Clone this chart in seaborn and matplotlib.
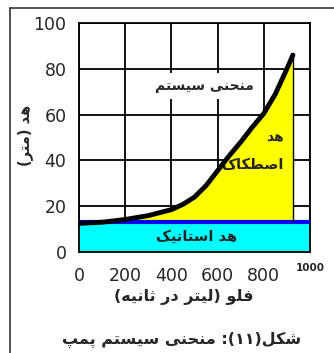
import numpy as np
import matplotlib
matplotlib.use("Agg")
import matplotlib.pyplot as plt
import seaborn as sns
from matplotlib.lines import Line2D

# data
flow = [0, 100, 200, 300, 400, 450, 500, 550, 600, 650, 700, 750, 800, 850, 900, 926]
head = [12.5, 13.0, 14.2, 15.9, 18.5, 20.8, 24.0, 29.0, 35.5, 42.0, 48.0, 54.5, 60.5, 69.0, 80.0, 86.0]
static_head = 13.0
x_ticks = [0, 200, 400, 600, 800, 1000]
y_ticks = [0, 20, 40, 60, 80, 100]

# matplotlib has no arabic shaping / bidi, so pick the presentation forms by hand
FORMS = {
    'ا': (0xFE8D, 0xFE8E), 'د': (0xFEA9, 0xFEAA), 'ر': (0xFEAD, 0xFEAE),
    'و': (0xFEED, 0xFEEE),
    'ب': (0xFE8F, 0xFE90, 0xFE91, 0xFE92), 'پ': (0xFB56, 0xFB57, 0xFB58, 0xFB59),
    'ت': (0xFE95, 0xFE96, 0xFE97, 0xFE98), 'ث': (0xFE99, 0xFE9A, 0xFE9B, 0xFE9C),
    'ح': (0xFEA1, 0xFEA2, 0xFEA3, 0xFEA4), 'س': (0xFEB1, 0xFEB2, 0xFEB3, 0xFEB4),
    'ش': (0xFEB5, 0xFEB6, 0xFEB7, 0xFEB8), 'ص': (0xFEB9, 0xFEBA, 0xFEBB, 0xFEBC),
    'ط': (0xFEC1, 0xFEC2, 0xFEC3, 0xFEC4), 'ف': (0xFED1, 0xFED2, 0xFED3, 0xFED4),
    'ک': (0xFB8E, 0xFB8F, 0xFB90, 0xFB91), 'ل': (0xFEDD, 0xFEDE, 0xFEDF, 0xFEE0),
    'م': (0xFEE1, 0xFEE2, 0xFEE3, 0xFEE4), 'ن': (0xFEE5, 0xFEE6, 0xFEE7, 0xFEE8),
    'ه': (0xFEE9, 0xFEEA, 0xFEEB, 0xFEEC), 'ی': (0xFBFC, 0xFBFD, 0xFBFE, 0xFBFF),
}
MIRROR = {'(': ')', ')': '('}


def fa(s):
    out = []
    for k, ch in enumerate(s):
        if ch not in FORMS:
            out.append(MIRROR.get(ch, ch))
            continue
        f = FORMS[ch]
        p = k > 0 and s[k - 1] in FORMS and len(FORMS[s[k - 1]]) == 4
        n = k < len(s) - 1 and s[k + 1] in FORMS and len(f) == 4
        out.append(chr(f[3] if p and n else f[1] if p else f[2] if n else f[0]))
    return ''.join(reversed(out))


sns.set_style("white")
plt.rcParams['font.family'] = ['DejaVu Sans']

fig = plt.figure(figsize=(3.34, 3.53), dpi=100)
ax = fig.add_axes([79 / 334, 1 - 252 / 353, 231 / 334, 229 / 353])

# static head band
ax.axhspan(0, static_head - 0.6, color='#00FFFF', zorder=2, lw=0)
ax.axhline(static_head, color='#0000FF', lw=3, zorder=3)

# friction head (yellow) between static line and curve
fx = np.array(flow, dtype=float)
fy = np.array(head)
ax.fill_between(fx, static_head + 0.5, np.maximum(fy, static_head + 0.5),
                color='#FFFF00', zorder=2, lw=0)
ax.plot([flow[-1], flow[-1]], [static_head + 0.5, head[-1]], color='black', lw=1, zorder=3)

sns.lineplot(x=flow, y=head, ax=ax, color='black', lw=3.5, zorder=5,
             solid_capstyle='round', solid_joinstyle='round')

ax.text(543, 72.5, fa('منحنی سیستم'), ha='center', va='center', fontsize=10,
        fontweight='bold', zorder=4,
        bbox=dict(facecolor='white', edgecolor='none', pad=4))
ax.text(885, 50, fa('هد'), ha='right', va='center', fontsize=10, fontweight='bold', zorder=4)
ax.text(885, 38, fa('اصطکاک'), ha='right', va='center', fontsize=10.5, fontweight='bold', zorder=4)
ax.text(511, 7.0, fa('هد استاتیک'), ha='center', va='center', fontsize=10.5,
        fontweight='bold', zorder=4)

ax.set_xlim(0, 1000)
ax.set_ylim(0, 100)
ax.set_xticks(x_ticks)
ax.set_yticks(y_ticks)
ax.set_xticklabels([str(v) for v in x_ticks[:-1]] + [''], fontsize=12.5)
ax.set_yticklabels([str(v) for v in y_ticks], fontsize=12.5)
ax.text(1000, -5.0, str(x_ticks[-1]), ha='center', va='top', fontsize=7.5,
        fontweight='bold', clip_on=False)
ax.tick_params(axis='both', direction='out', length=6, width=1.2, color='black', pad=3)
ax.tick_params(axis='x', pad=5)
ax.grid(True, color='black', lw=1.3)
ax.set_axisbelow(True)
for s in ax.spines.values():
    s.set_color('black')
    s.set_linewidth(1.3)

fig.text(25 / 334, 1 - 135 / 353, fa('هد (متر)'), rotation=90, ha='center', va='center',
         fontsize=10.5, fontweight='bold')
fig.text(184 / 334, 1 - 297 / 353, fa('فلو (لیتر در ثانیه)'), ha='center', va='center',
         fontsize=11.5, fontweight='bold')
fig.text(182 / 334, 1 - 340 / 353, fa('شکل(۱۱): منحنی سیستم پمپ'), ha='center', va='center',
         fontsize=11.5, fontweight='bold')

# outer frame
fig.add_artist(Line2D([10 / 334, 10 / 334], [0, 1 - 8 / 353], color='#333333', lw=1.2))
fig.add_artist(Line2D([10 / 334, 1], [1 - 8 / 353, 1 - 8 / 353], color='#333333', lw=1.2))

fig.savefig('out.png', dpi=100)
